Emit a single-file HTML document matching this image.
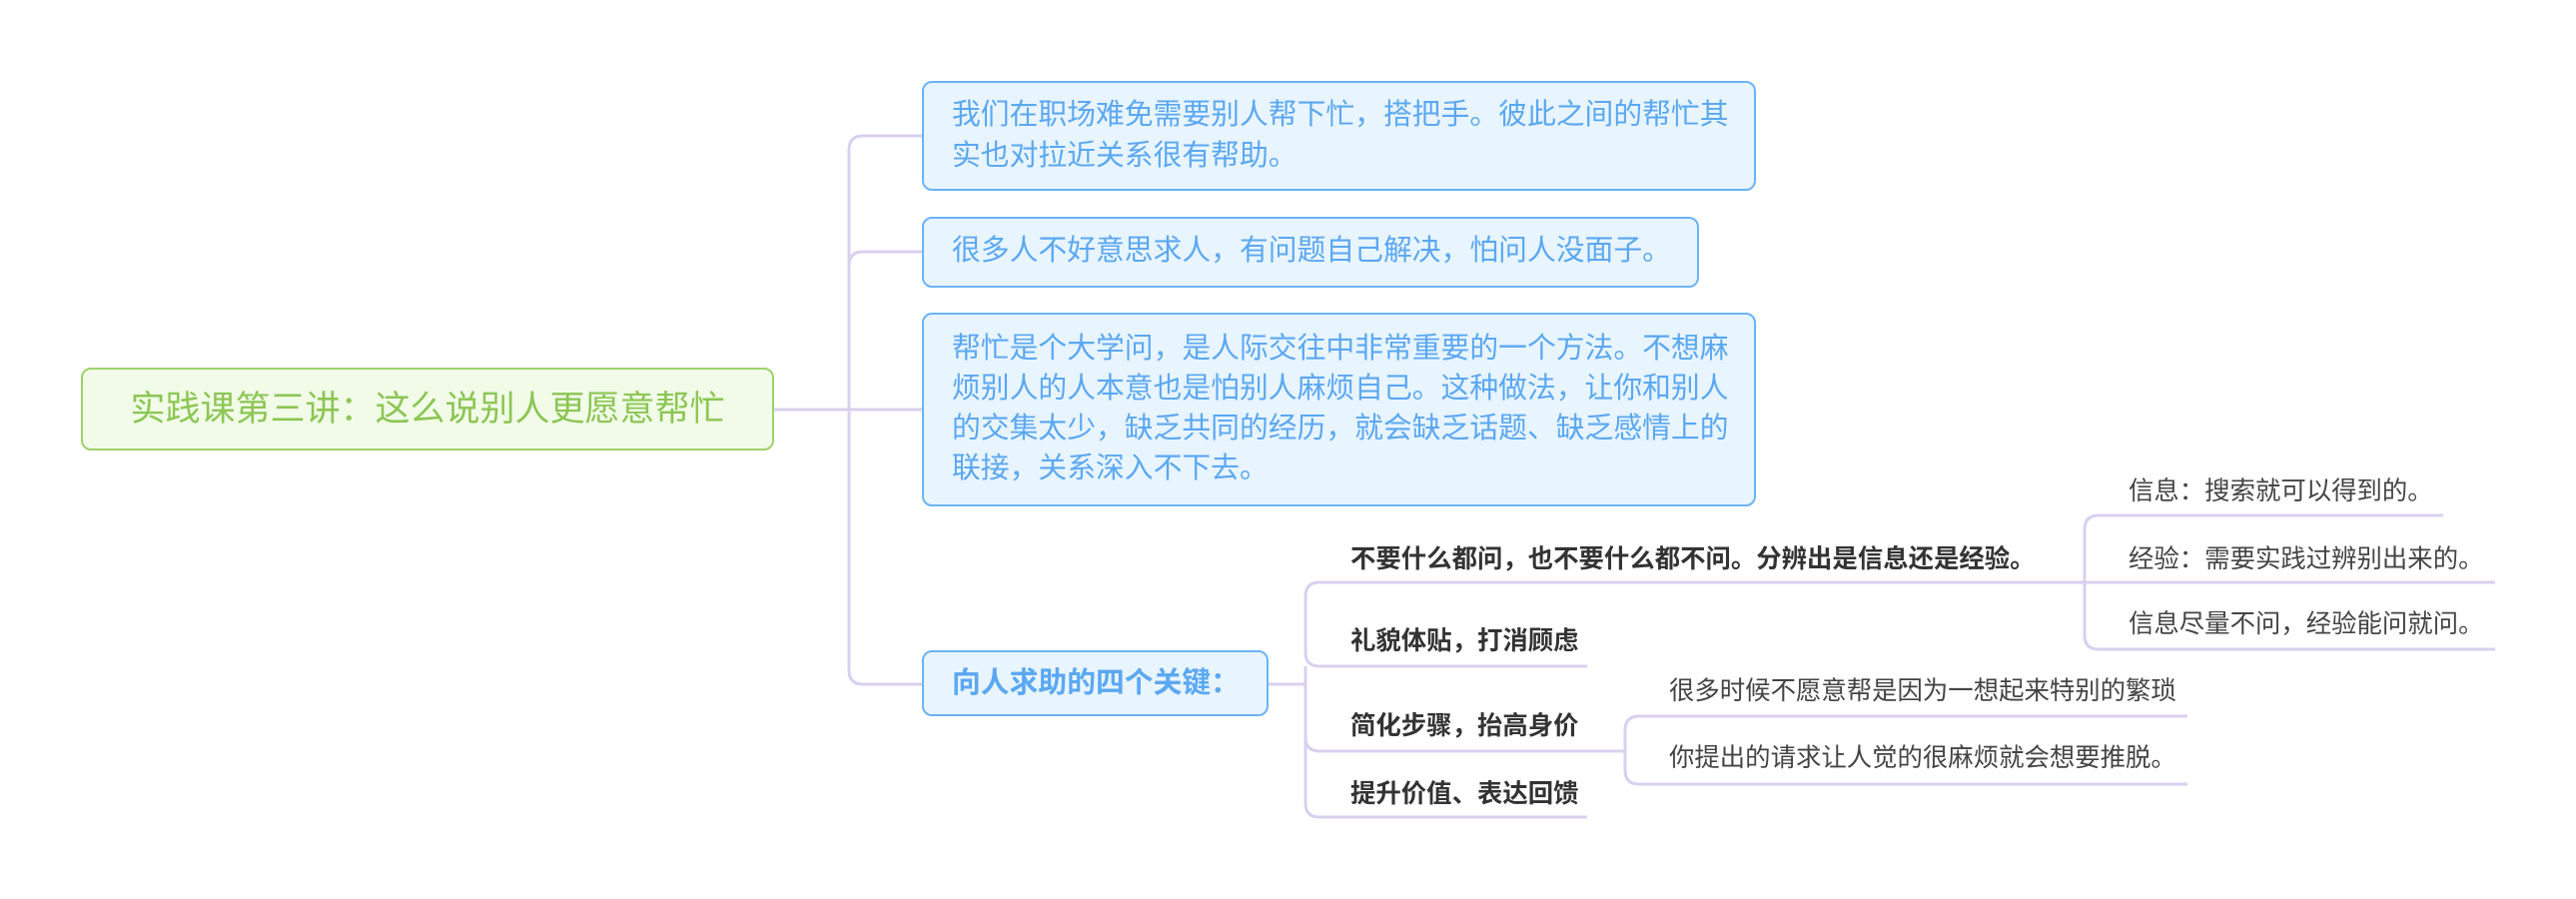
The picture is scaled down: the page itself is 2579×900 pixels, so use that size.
<!DOCTYPE html>
<html><head><meta charset="utf-8"><style>
body{margin:0;width:2579px;height:900px;background:#fff;position:relative;overflow:hidden;font-family:"Liberation Sans","Noto Sans CJK SC",sans-serif}
.a{position:absolute;white-space:nowrap}
.box{position:absolute;box-sizing:border-box;background:#e8f4fe;border:2px solid #6cb3f5;border-radius:10px;color:#5aa8f2;font-size:28.8px;line-height:41px;padding:0 0 0 28px;white-space:nowrap}
.c{position:absolute;font-size:25.4px;font-weight:bold;color:#333;white-space:nowrap}
.g{position:absolute;font-size:25.4px;color:#444;white-space:nowrap}
</style></head><body>
<svg class="a" style="left:0;top:0" width="2579" height="900">
<g fill="none" stroke="#d8d0ef" stroke-width="3">
<path d="M775,410 H923"/>
<path d="M923,136 H864 Q850,136 850,150 V671 Q850,685 864,685 H923"/>
<path d="M850,266 Q850,252 864,252 H923"/>
<path d="M1270,685 H1307"/>
<path d="M1589,667 H1321 Q1307,667 1307,653 V597 Q1307,583 1321,583 H2498"/>
<path d="M1307,667 V804 Q1307,818 1321,818 H1589"/>
<path d="M1307,738 Q1307,752 1321,752 H1627"/>
<path d="M2446,516 H2101 Q2087,516 2087,530 V636 Q2087,650 2101,650 H2498"/>
<path d="M2190,717 H1641 Q1627,717 1627,731 V771 Q1627,785 1641,785 H2190"/>
</g></svg>
<div class="a" style="left:81px;top:368px;width:694px;height:83px;box-sizing:border-box;background:#f1fbe8;border:2px solid #9dd16b;border-radius:10px;color:#8cc653;font-size:35px;line-height:79px;text-align:center">实践课第三讲：这么说别人更愿意帮忙</div>
<div class="box" style="left:923px;top:81px;width:835px;height:110px;padding-top:12px">我们在职场难免需要别人帮下忙，搭把手。彼此之间的帮忙其<br>实也对拉近关系很有帮助。</div>
<div class="box" style="left:923px;top:217px;width:778px;height:71px;padding-top:12px">很多人不好意思求人，有问题自己解决，怕问人没面子。</div>
<div class="box" style="left:923px;top:313px;width:835px;height:194px;padding-top:14px;line-height:40px">帮忙是个大学问，是人际交往中非常重要的一个方法。不想麻<br>烦别人的人本意也是怕别人麻烦自己。这种做法，让你和别人<br>的交集太少，缺乏共同的经历，就会缺乏话题、缺乏感情上的<br>联接，关系深入不下去。</div>
<div class="box" style="left:923px;top:651px;width:347px;height:66px;padding-top:11px;font-weight:bold">向人求助的四个关键：</div>
<div class="c" style="left:1352px;top:540px">不要什么都问，也不要什么都不问。分辨出是信息还是经验。</div>
<div class="c" style="left:1352px;top:622px">礼貌体贴，打消顾虑</div>
<div class="c" style="left:1352px;top:707px">简化步骤，抬高身价</div>
<div class="c" style="left:1352px;top:775px">提升价值、表达回馈</div>
<div class="g" style="left:2131px;top:472px">信息：搜索就可以得到的。</div>
<div class="g" style="left:2131px;top:540px">经验：需要实践过辨别出来的。</div>
<div class="g" style="left:2131px;top:605px">信息尽量不问，经验能问就问。</div>
<div class="g" style="left:1671px;top:672px">很多时候不愿意帮是因为一想起来特别的繁琐</div>
<div class="g" style="left:1671px;top:739px">你提出的请求让人觉的很麻烦就会想要推脱。</div>
</body></html>
